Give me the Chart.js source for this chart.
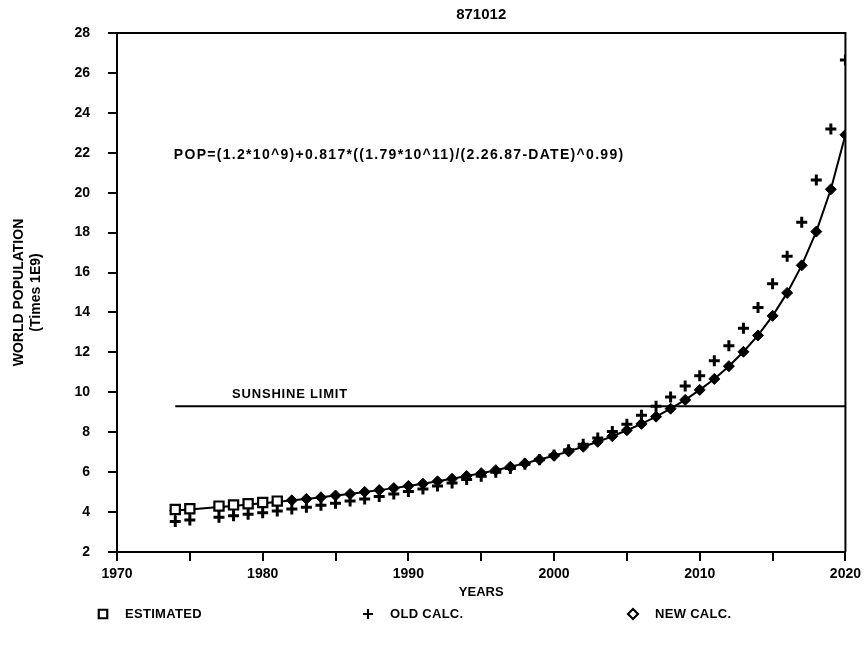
<!DOCTYPE html>
<html><head><meta charset="utf-8">
<script src="https://cdn.jsdelivr.net/npm/chart.js@4.4.0/dist/chart.umd.min.js"></script>
<style>html,body{margin:0;padding:0;background:#fff;}</style>
</head><body>
<canvas id="c" width="866" height="649"></canvas>
<script>
// ---------- data ----------
const chartTitle = '871012';
const formulaText = 'POP=(1.2*10^9)+0.817*((1.79*10^11)/(2.26.87-DATE)^0.99)';
const sunshineLabel = 'SUNSHINE LIMIT';

const years = [1974,1975,1977,1978,1979,1980,1981,1982,1983,1984,1985,1986,1987,1988,1989,
  1990,1991,1992,1993,1994,1995,1996,1997,1998,1999,2000,2001,2002,2003,2004,2005,2006,2007,
  2008,2009,2010,2011,2012,2013,2014,2015,2016,2017,2018,2019,2020];

const newCalc = [4.08,4.13,4.25,4.31,4.38,4.44,4.51,4.59,4.66,4.74,4.83,4.91,5.01,5.10,5.20,
  5.31,5.42,5.54,5.67,5.81,5.95,6.10,6.27,6.44,6.63,6.82,7.04,7.27,7.52,7.80,8.10,8.42,8.78,
  9.18,9.62,10.12,10.67,11.31,12.03,12.85,13.83,14.98,16.36,18.05,20.17,22.90];

const oldCalc = [3.53,3.60,3.74,3.81,3.89,3.97,4.06,4.15,4.24,4.34,4.44,4.55,4.66,4.78,4.90,
  5.03,5.16,5.31,5.46,5.63,5.80,5.99,6.18,6.39,6.62,6.86,7.12,7.40,7.71,8.04,8.40,8.85,9.30,
  9.77,10.31,10.83,11.58,12.33,13.21,14.25,15.44,16.81,18.52,20.63,23.19,26.65];

const estimatedYears = [1974,1975,1977,1978,1979,1980,1981];
const estimatedValues = [4.13,4.17,4.30,4.36,4.42,4.48,4.55];

const sunshineYears = [1974,2020];
const sunshineValues = [9.3,9.3];

const seriesLabels = ['ESTIMATED','OLD CALC.','NEW CALC.'];
const yTitle = ['WORLD POPULATION','(Times 1E9)'];
const xTitle = 'YEARS';

// ---------- drawing ----------
const FONT = "'Liberation Sans', Arial, sans-serif";
const pts = (xs, ys) => xs.map((x, i) => ({x: x, y: ys[i]}));

const extrasPlugin = {
  id: 'extras',
  afterDraw(chart) {
    const {ctx, chartArea: a, scales} = chart;
    ctx.save();
    // frame (top and right)
    ctx.strokeStyle = '#000';
    ctx.lineWidth = 2;
    ctx.beginPath();
    ctx.moveTo(a.left, a.top);
    ctx.lineTo(a.right, a.top);
    ctx.lineTo(a.right, a.bottom);
    ctx.stroke();
    ctx.fillStyle = '#000';
    // formula
    ctx.font = 'bold 14px ' + FONT;
    ctx.letterSpacing = '1.3px';
    ctx.textBaseline = 'middle';
    ctx.textAlign = 'left';
    ctx.fillText(formulaText, scales.x.getPixelForValue(1973.9), scales.y.getPixelForValue(21.9));
    // sunshine label
    ctx.font = 'bold 13px ' + FONT;
    ctx.letterSpacing = '0.8px';
    ctx.fillText(sunshineLabel, scales.x.getPixelForValue(1977.9), scales.y.getPixelForValue(sunshineValues[0]) - 12);
    // legend
    ctx.letterSpacing = '0.3px';
    const lx = [103, 368, 633];
    const ly = 614;
    const styles = [
      {pointStyle: 'rect', radius: 6, fill: '#fff'},
      {pointStyle: 'cross', radius: 5, fill: '#000'},
      {pointStyle: 'rectRot', radius: 5, fill: '#fff'}
    ];
    ctx.font = 'bold 13px ' + FONT;
    seriesLabels.forEach((lab, i) => {
      ctx.strokeStyle = '#000';
      ctx.fillStyle = styles[i].fill;
      ctx.lineWidth = 2.2;
      Chart.helpers.drawPoint(ctx, {pointStyle: styles[i].pointStyle, radius: styles[i].radius, rotation: 0, borderWidth: 2.2}, lx[i], ly);
      ctx.fillStyle = '#000';
      ctx.fillText(lab, lx[i] + 22, ly);
    });
    ctx.restore();
  }
};

new Chart(document.getElementById('c'), {
  type: 'scatter',
  data: {
    datasets: [
      {label: seriesLabels[0], data: pts(estimatedYears, estimatedValues), pointStyle: 'rect',
       pointRadius: 6.5, borderColor: '#000', backgroundColor: '#fff', borderWidth: 2.2, showLine: false},
      {label: seriesLabels[1], data: pts(years, oldCalc), pointStyle: 'cross', pointRadius: 5.5,
       borderColor: '#000', backgroundColor: '#000', borderWidth: 3, showLine: false},
      {label: seriesLabels[2], data: pts(years, newCalc), pointStyle: 'rectRot', pointRadius: 5.5,
       borderColor: '#000', backgroundColor: '#000', borderWidth: 2, pointBorderWidth: 1, showLine: true},
      {label: sunshineLabel, data: pts(sunshineYears, sunshineValues), pointRadius: 0,
       borderColor: '#000', borderWidth: 2, showLine: true}
    ]
  },
  options: {
    responsive: false,
    animation: false,
    layout: {padding: {left: 0, right: 18, top: 0, bottom: 37}},
    plugins: {
      legend: {display: false},
      tooltip: {enabled: false},
      title: {display: true, text: chartTitle, fullSize: false, color: '#000',
        font: {family: FONT, size: 15, weight: 'bold'}, padding: {top: 6, bottom: 9}}
    },
    scales: {
      x: {
        type: 'linear', min: 1970, max: 2020,
        afterFit(s) { s.height = 60; },
        border: {color: '#000', width: 2},
        grid: {drawOnChartArea: false, color: '#000', lineWidth: 2, tickLength: 9},
        ticks: {stepSize: 5, autoSkip: false, maxRotation: 0, color: '#000', padding: 5,
          font: {family: FONT, size: 14, weight: 'bold'},
          callback: v => (v % 10 === 0 ? String(v) : '')},
        title: {display: true, text: xTitle, color: '#000',
          font: {family: FONT, size: 13, weight: 'bold'}, padding: {top: 0, bottom: 12}}
      },
      y: {
        min: 2, max: 28,
        afterFit(s) { s.width = 117; },
        border: {color: '#000', width: 2},
        grid: {drawOnChartArea: false, color: '#000', lineWidth: 2, tickLength: 9},
        ticks: {stepSize: 2, color: '#000', padding: 18,
          font: {family: FONT, size: 14, weight: 'bold'}},
        title: {display: true, text: yTitle, color: '#000',
          font: {family: FONT, size: 14, weight: 'bold'}, padding: {top: 11, bottom: 0}}
      }
    }
  },
  plugins: [extrasPlugin]
});
</script>
</body></html>
